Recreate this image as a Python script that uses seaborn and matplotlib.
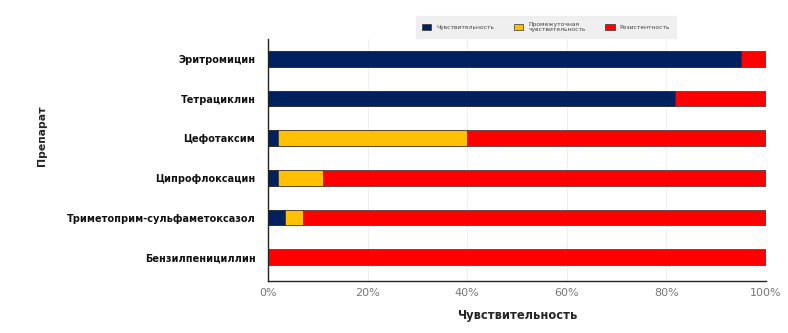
import matplotlib
matplotlib.use("Agg")
import matplotlib.pyplot as plt
import seaborn as sns
import pandas as pd
import numpy as np
from matplotlib.patches import Patch
from matplotlib.ticker import PercentFormatter

drugs = ["Эритромицин", "Тетрациклин", "Цефотаксим", "Ципрофлоксацин",
         "Триметоприм-сульфаметоксазол", "Бензилпенициллин"]
sensitive = [95, 81.7, 2, 2, 3.5, 0]
intermediate = [0, 0, 38, 9, 3.5, 0]
resistant = [5, 18.3, 60, 89, 93, 100]
series_names = ["Чувствительность", "Промежуточная\nчувствительность", "Резистентность"]
colors = ["#002060", "#FFC000", "#FF0000"]

sns.set_theme(style="white")
plt.rcParams["font.family"] = ["DejaVu Sans"]

fig = plt.figure(figsize=(7.88, 3.33), dpi=100)
ax = fig.add_axes([268/788, 1-281/333, (766-268)/788, (281-39)/333])

s = np.array(sensitive)
i = np.array(intermediate)
r = np.array(resistant)
layers = [s + i + r, s + i, s]
layer_colors = [colors[2], colors[1], colors[0]]
for vals, c in zip(layers, layer_colors):
    df = pd.DataFrame({"drug": drugs, "val": vals})
    sns.barplot(data=df, x="val", y="drug", orient="h", color=c, saturation=1,
                width=0.39, edgecolor="#333333", linewidth=0.5, ax=ax)

ax.set_xlim(0, 100)
ax.set_ylim(5.6, -0.5)
ax.xaxis.set_major_formatter(PercentFormatter(decimals=0))
ax.set_xticks([0, 20, 40, 60, 80, 100])
ax.grid(axis="x", color="#eeeeee", linewidth=0.6)
ax.set_axisbelow(True)
for side in ["top", "right"]:
    ax.spines[side].set_visible(False)
for side in ["left", "bottom"]:
    ax.spines[side].set_color("#222222")
    ax.spines[side].set_linewidth(1.0)
ax.tick_params(axis="x", direction="in", length=4, colors="#222222", labelcolor="#777777",
               labelsize=8, pad=5)
ax.tick_params(axis="y", direction="in", length=3, colors="#222222", labelcolor="#111111",
               labelsize=7, pad=9)
for lbl in ax.get_yticklabels():
    lbl.set_fontweight("bold")
ax.set_xlabel("Чувствительность", fontsize=8.3, fontweight="bold", labelpad=8)
ax.set_ylabel("Препарат", fontsize=7.8, fontweight="bold")
ax.yaxis.set_label_coords((47 - 268) / 498, (281 - 136) / 242)

handles = [Patch(facecolor=c, edgecolor="#333333", linewidth=0.5) for c in colors]
leg = fig.legend(handles, series_names, loc="center", bbox_to_anchor=(546/788, 1-27/333),
                 ncol=3, fontsize=4.3, frameon=True, fancybox=False,
                 handlelength=1.6, handleheight=1.0, columnspacing=3.3, borderpad=0.9)
leg.get_frame().set_facecolor("#ececec")
leg.get_frame().set_edgecolor("#ececec")
for t in leg.get_texts():
    t.set_color("#444444")

fig.savefig("out.png", dpi=100)
